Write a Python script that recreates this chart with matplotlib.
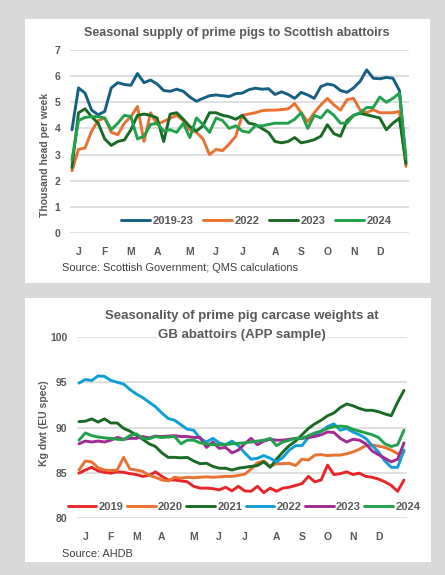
import numpy as np
import matplotlib
matplotlib.use("Agg")
import matplotlib.pyplot as plt
from matplotlib.patches import Rectangle

W, H = 445, 575
TXT = "#595959"
GRID = "#d9d9d9"
plt.rcParams["font.family"] = ["Liberation Sans", "DejaVu Sans"]

months = ["J", "F", "M", "A", "M", "J", "J", "A", "S", "O", "N", "D"]
month_weeks = [1, 5, 9, 13, 18, 22, 26, 31, 35, 39, 43, 47]

# weekly throughput, thousand head
supply = {
    "2019-23": [3.95, 5.55, 5.35, 4.7, 4.52, 4.65, 5.55, 5.75, 5.68, 5.65,
                6.1, 5.75, 5.85, 5.7, 5.45, 5.42, 5.5, 5.42, 5.2, 5.04,
                5.15, 5.25, 5.28, 5.25, 5.22, 5.33, 5.35, 5.48, 5.54, 5.5,
                5.52, 5.3, 5.4, 5.3, 5.15, 5.38, 5.28, 5.15, 5.6, 5.7,
                5.65, 5.45, 5.38, 5.55, 5.8, 6.24, 5.92, 5.9, 5.95, 5.92,
                5.45, 2.7],
    "2022": [2.38, 3.2, 3.25, 3.9, 4.3, 4.4, 3.85, 3.76, 4.2, 4.45,
             4.84, 3.5, 4.6, 4.15, 4.27, 4.39, 4.5, 4.3, 3.95, 3.85,
             3.6, 3.0, 3.2, 3.15, 3.4, 3.7, 4.5, 4.55, 4.6, 4.68,
             4.7, 4.7, 4.72, 4.75, 4.95, 4.6, 4.25, 4.6, 4.9, 5.15,
             4.9, 4.7, 5.1, 5.15, 4.7, 4.6, 4.72, 4.6, 4.6, 4.6,
             4.65, 2.55],
    "2023": [2.5, 4.6, 4.75, 4.45, 4.2, 3.6, 3.35, 3.5, 3.56, 3.95,
             4.5, 4.55, 4.5, 4.4, 3.5, 4.55, 4.6, 4.35, 4.07, 3.9,
             4.1, 4.6, 4.6, 4.5, 4.45, 4.35, 4.5, 4.2, 4.15, 4.0,
             3.85, 3.5, 3.45, 3.5, 3.65, 3.45, 3.5, 3.57, 3.7, 4.14,
             3.8, 3.7, 4.3, 4.5, 4.58, 4.52, 4.46, 4.4, 3.95, 4.2,
             4.39, 2.65],
    "2024": [2.8, 4.3, 4.42, 4.45, 4.45, 4.4, 3.95, 4.2, 4.5, 4.45,
             3.6, 3.7, 4.15, 4.2, 3.9, 3.95, 3.85, 4.2, 3.65, 4.4,
             4.15, 3.85, 4.4, 4.3, 4.0, 4.1, 3.9, 3.85, 4.1, 4.1,
             4.15, 4.2, 4.2, 4.2, 4.35, 4.6, 4.0, 4.5, 4.4, 4.7,
             4.5, 4.2, 4.2, 4.5, 4.6, 4.8, 4.8, 5.2, 5.0, 5.15,
             5.35, 2.85],
}
supply_colors = ["#156082", "#e97132", "#196b24", "#22a04b"]

# average carcase weight, kg dwt
weights = {
    "2019": [84.95, 85.3, 85.6, 85.2, 85.05, 84.95, 85.1, 85.05, 84.9, 84.8,
             84.6, 84.7, 85.1, 84.6, 84.2, 84.2, 84.1, 84.0, 83.5, 83.3,
             83.3, 83.25, 83.1, 83.4, 83.0, 83.5, 83.0, 82.95, 83.5, 82.8,
             83.3, 82.95, 83.3, 83.4, 83.6, 83.8, 84.6, 84.0, 84.2, 85.85,
             84.8, 84.9, 85.1, 84.8, 84.95, 84.6, 84.5, 84.3, 84.0, 83.6,
             82.95, 84.2],
    "2020": [85.3, 86.3, 86.2, 85.55, 85.3, 85.25, 85.3, 86.7, 85.4, 85.3,
             85.15, 84.7, 84.5, 84.2, 84.1, 84.5, 84.4, 84.5, 84.45, 84.5,
             84.55, 84.5, 84.55, 84.6, 84.6, 84.7, 84.85, 85.4, 86.1, 86.3,
             85.7, 86.0, 86.0, 86.05, 85.8, 86.5, 86.4, 86.95, 87.0, 86.9,
             86.95, 86.95, 87.1, 87.3, 87.6, 88.0, 88.05, 87.95, 87.8, 87.5,
             87.1, 87.3],
    "2021": [90.65, 90.7, 90.95, 90.6, 90.95, 90.5, 90.5, 89.9, 89.6, 89.15,
             88.7, 88.2, 87.9, 87.2, 86.7, 86.7, 86.65, 86.7, 86.3, 86.0,
             86.05, 85.7, 85.5, 85.5, 85.3, 85.5, 85.6, 85.7, 85.8, 86.2,
             85.6, 86.5, 87.3, 88.0, 88.5, 89.2, 89.9, 90.4, 90.8, 91.3,
             91.6, 92.2, 92.6, 92.4, 92.1, 91.9, 91.9, 91.75, 91.5, 91.3,
             92.8, 94.1],
    "2022": [94.9, 95.3, 95.2, 95.7, 95.65, 95.2, 95.0, 94.8, 94.2, 93.7,
             93.3, 92.8, 92.3, 91.6, 91.0, 90.8, 90.3, 89.8, 89.7, 88.8,
             88.4, 88.8, 88.3, 88.1, 88.5, 88.0, 87.2, 86.5, 86.6, 86.9,
             86.6, 86.2, 86.7, 87.5, 88.0, 88.0, 88.9, 89.2, 89.6, 90.1,
             90.4, 89.7, 89.9, 89.5, 89.2, 88.8, 88.0, 87.3, 86.3, 85.6,
             85.6, 87.5],
    "2023": [88.2, 88.5, 88.4, 88.5, 88.4, 88.6, 88.9, 88.7, 88.8, 88.8,
             89.0, 88.85, 89.05, 89.0, 89.05, 89.1, 89.0, 89.0, 88.9, 88.9,
             87.8, 88.4, 87.7, 87.8, 87.2, 87.5, 88.2, 88.8, 88.1, 88.5,
             88.7, 88.6, 88.6, 88.7, 88.8, 88.8, 88.9, 89.0, 89.2, 89.5,
             89.45, 88.8, 88.4, 88.7, 88.6, 88.2, 87.4, 87.0, 86.6, 86.2,
             86.5, 88.3],
    "2024": [88.6, 89.4, 89.1, 88.95, 88.85, 88.8, 88.7, 88.65, 89.1, 89.3,
             88.8, 88.75, 89.0, 88.9, 88.95, 89.0, 88.2, 88.6, 88.6, 88.3,
             88.2, 88.1, 88.1, 88.1, 88.2, 88.25, 88.3, 88.4, 88.5, 88.6,
             88.8, 88.0, 88.4, 88.6, 88.8, 88.8, 89.1, 89.4, 89.6, 89.9,
             90.1, 90.15, 90.1, 89.8, 89.6, 89.4, 89.2, 88.9, 88.2, 87.9,
             88.1, 89.7],
}
weight_colors = ["#e8262a", "#e97132", "#196b24", "#0f9ed5", "#a02b93", "#22a04b"]


def fx(px):
    return px / W


def fy(py):
    return 1 - py / H


def box(x0, y0, x1, y1):
    return [fx(x0), fy(y1), fx(x1) - fx(x0), fy(y0) - fy(y1)]


def style_axes(ax, ylim, yticks, xlim):
    ax.set_xlim(*xlim)
    ax.set_ylim(*ylim)
    ax.set_yticks(yticks)
    ax.set_xticks(month_weeks)
    ax.set_xticklabels(months)
    for s in ax.spines.values():
        s.set_visible(False)
    ax.grid(axis="y", color=GRID, lw=1.2)
    ax.set_axisbelow(True)
    ax.tick_params(length=0, labelsize=7.5, labelcolor=TXT)
    ax.tick_params(axis="x", pad=10)
    ax.tick_params(axis="y", pad=7)
    for t in ax.get_xticklabels() + ax.get_yticklabels():
        t.set_fontweight("bold")
    ax.set_facecolor("none")


fig = plt.figure(figsize=(W / 100, H / 100), dpi=100)
fig.patch.set_facecolor("#d9d9d9")
for rect in [(25, 19, 430, 283), (25, 298, 431, 562)]:
    x0, y0, x1, y1 = rect
    fig.patches.append(Rectangle((fx(x0), fy(y1)), fx(x1) - fx(x0), fy(y0) - fy(y1),
                                 transform=fig.transFigure, facecolor="white",
                                 edgecolor="none", zorder=-5))

# supply chart
ax1 = fig.add_axes(box(70, 50, 409, 233))
weeks = np.arange(52)
for (name, vals), c in zip(supply.items(), supply_colors):
    ax1.plot(weeks, vals, color=c, lw=2.1, label=name, solid_capstyle="round")
style_axes(ax1, (0, 7), range(0, 8), (-0.3, 51.46))
ax1.legend(loc="center", bbox_to_anchor=(0.55, 0.066), ncol=4, frameon=False,
           handlelength=2.6, columnspacing=0.9, handletextpad=0.2,
           prop={"weight": "bold", "size": 8}, labelcolor=TXT)
fig.text(fx(237), fy(33), "Seasonal supply of prime pigs to Scottish abattoirs",
         ha="center", va="center", fontsize=9, fontweight="bold", color=TXT)
fig.text(fx(45), fy(155), "Thousand head per week", rotation=90, ha="center",
         va="center", fontsize=7.5, fontweight="bold", color=TXT)
fig.text(fx(62), fy(268), "Source: Scottish Government; QMS calculations",
         ha="left", va="center", fontsize=7.9, color="#404040")

# carcase weight chart
ax2 = fig.add_axes(box(77, 337, 407, 518))
for (name, vals), c in zip(weights.items(), weight_colors):
    ax2.plot(weeks, vals, color=c, lw=2.1, label=name, solid_capstyle="round")
style_axes(ax2, (80, 100), range(80, 101, 5), (-0.31, 51.47))
ax2.legend(loc="center", bbox_to_anchor=(0.506, 0.061), ncol=6, frameon=False,
           handlelength=2.6, columnspacing=0.3, handletextpad=0.2,
           prop={"weight": "bold", "size": 8}, labelcolor=TXT)
fig.text(fx(242), fy(316), "Seasonality of prime pig carcase weights at",
         ha="center", va="center", fontsize=9.5, fontweight="bold", color=TXT)
fig.text(fx(242), fy(335), "GB abattoirs (APP sample)",
         ha="center", va="center", fontsize=9.5, fontweight="bold", color=TXT,
         bbox=dict(facecolor="white", edgecolor="none", pad=0.5))
fig.text(fx(44), fy(423), "Kg dwt (EU spec)", rotation=90, ha="center",
         va="center", fontsize=7.6, fontweight="bold", color=TXT)
fig.text(fx(62), fy(554), "Source: AHDB",
         ha="left", va="center", fontsize=7.9, color="#404040")

fig.savefig("out.png", dpi=100, facecolor=fig.get_facecolor())
